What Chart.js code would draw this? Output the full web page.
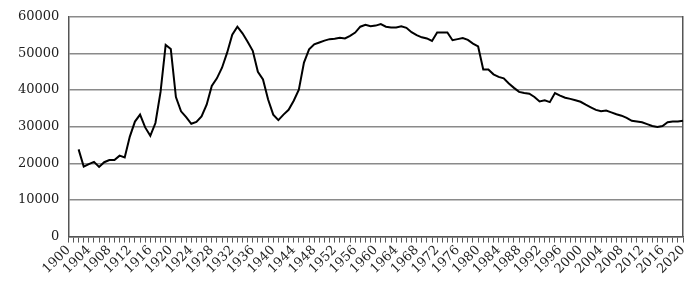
<!DOCTYPE html>
<html>
<head>
<meta charset="utf-8">
<script src="https://cdn.jsdelivr.net/npm/chart.js@4"></script>
<style>
  html, body { margin: 0; padding: 0; background: #fff; }
  #wrap { width: 700px; height: 288px; }
</style>
</head>
<body>
<div id="wrap"><canvas id="line-chart"></canvas></div>
<script>
const firstYear = 1900;
const lastYear = 2020;

// values from 1902 to 2020, one per year
const values = [
    23800, 19100, 19800, 20400, 19000, 20300, 20900, 20900, 22100, 21600,
    27300, 31400, 33300, 29800, 27500, 31000, 39500, 52300, 51200, 38100,
    34200, 32600, 30800, 31300, 32800, 36000, 41100, 43200, 46100, 50200,
    55100, 57300, 55500, 53200, 50700, 45000, 42900, 37400, 33300, 31800,
    33300, 34600, 37100, 40100, 47500, 51100, 52500, 53000, 53500, 53900,
    54000, 54300, 54100, 54800, 55700, 57300, 57800, 57400, 57600, 58000,
    57300, 57100, 57100, 57400, 57000, 55800, 55000, 54400, 54100, 53400,
    55700, 55700, 55700, 53600, 53900, 54200, 53700, 52700, 51900, 45600,
    45600, 44300, 43600, 43200, 41800, 40600, 39500, 39200, 39000, 38100,
    36900, 37200, 36700, 39200, 38500, 37900, 37600, 37200, 36800, 36000,
    35300, 34600, 34200, 34400, 33900, 33400, 33000, 32400, 31600, 31400,
    31200, 30700, 30200, 29900, 30200, 31200, 31400, 31400, 31600
];
const dataStart = 1902;

const labels = [];
for (let y = firstYear; y <= lastYear; y++) {
    labels.push(String(y));
}

const series = labels.map((l) => {
    const i = Number(l) - dataStart;
    return i >= 0 && i < values.length ? values[i] : null;
});

const font = { family: "DejaVu Serif", size: 13 };

const ctx = document.getElementById("line-chart");

new Chart(ctx, {
    type: "line",
    data: {
        labels,
        datasets: [
            {
                data: series,
                borderColor: "#000",
                borderWidth: 2,
                pointRadius: 0,
                fill: false,
                tension: 0,
                spanGaps: false,
            },
        ],
    },
    options: {
        responsive: true,
        maintainAspectRatio: false,
        animation: false,
        layout: { padding: { left: 9, right: 17, top: 10, bottom: 11 } },
        plugins: { legend: { display: false }, tooltip: { enabled: false } },
        scales: {
            x: {
                offset: false,
                grid: {
                    drawOnChartArea: false,
                    drawTicks: true,
                    tickLength: 6,
                    color: "#555",
                },
                border: { color: "#555", width: 1.5 },
                ticks: {
                    autoSkip: false,
                    minRotation: 45,
                    maxRotation: 45,
                    padding: 0,
                    color: "#222",
                    font,
                    callback: function (val) {
                        const y = Number(this.getLabelForValue(val));
                        return (y - firstYear) % 4 === 0 ? String(y) : "";
                    },
                },
            },
            y: {
                min: 0,
                max: 60000,
                grid: { color: "#8a8a8a", lineWidth: 1.5, drawTicks: false },
                border: { color: "#555", width: 1.5 },
                ticks: {
                    stepSize: 10000,
                    padding: 9,
                    color: "#222",
                    font,
                    callback: (v) => String(v),
                },
            },
            y2: {
                position: "right",
                min: 0,
                max: 60000,
                grid: { drawOnChartArea: false, drawTicks: false },
                border: { color: "#555", width: 1.5 },
                ticks: { display: false },
            },
        },
    },
});
</script>
</body>
</html>
